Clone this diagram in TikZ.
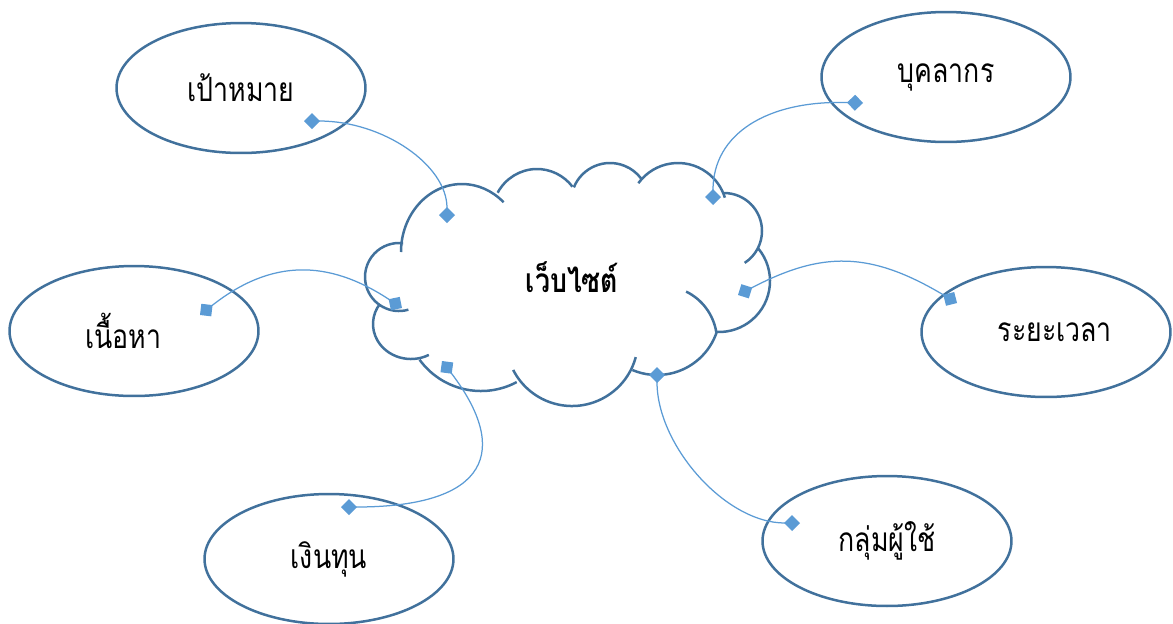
\documentclass[tikz,border=0pt]{standalone}
\usepackage{fontspec}
\newfontfamily\thaifont[Script=Thai, FakeStretch=0.8]{Loma}
\usetikzlibrary{shapes.geometric, arrows.meta, calc}
\definecolor{outlineblue}{HTML}{41719C}
\definecolor{linkblue}{HTML}{5B9BD5}
\tikzset{
  topic/.style={
    ellipse,
    draw = outlineblue,
    line width = 0.05cm,
    minimum width = 4.98cm,
    minimum height = 2.6cm,
    font = \thaifont\fontsize{19}{23}\selectfont
  },
  webtitle/.style={
    font = \thaifont\bfseries\fontsize{19}{23}\selectfont
  },
  cloudline/.style={
    draw = outlineblue,
    line width = 0.05cm
  },
  linkline/.style={
    draw = linkblue,
    line width = 0.025cm,
    arrows = {Diamond[length=0.32cm, width=0.32cm]-Diamond[length=0.32cm, width=0.32cm]}
  }
}

\begin{document}
\begin{tikzpicture}[x=0.02cm, y=-0.02cm]
    \useasboundingbox (0,0) rectangle (1173,623);
    \coordinate (goalpin) at (304,121);
    \coordinate (webgoal) at (447,223);
    \coordinate (staffpin) at (863,103);
    \coordinate (webstaff) at (713,205);
    \coordinate (contentpin) at (200,315);
    \coordinate (webcontent) at (402,308);
    \coordinate (webtime) at (738,295);
    \coordinate (timepin) at (957,303);
    \coordinate (webfunds) at (442,361);
    \coordinate (fundspin) at (341,507);
    \coordinate (webusers) at (657,367);
    \coordinate (userspin) at (800,523);

    % cloud outline, lobe by lobe
    \draw[cloudline] (462,252) ++(180:61 and 68) arc[start angle=180, end angle=313, x radius=61, y radius=68];
    \draw[cloudline] (537,215) ++(209:45 and 46) arc[start angle=209, end angle=322, x radius=45, y radius=46];
    \draw[cloudline] (610,202) ++(202:39 and 39) arc[start angle=202, end angle=323, radius=39];
    \draw[cloudline] (678,212) ++(216:49 and 49) arc[start angle=216, end angle=343, radius=49];
    \draw[cloudline] (724,231) ++(270:38 and 38) arc[start angle=270, end angle=417, radius=38];
    \draw[cloudline] (719,281) ++(320:51 and 51) arc[start angle=320, end angle=452, radius=51];
    \draw[cloudline] (662,341) ++(296:55 and 55) arc[start angle=296, end angle=351, radius=55];
    \draw[cloudline] (657,312) ++(18:63 and 63) arc[start angle=18, end angle=113, radius=63];
    \draw[cloudline] (572,340) ++(15:66 and 66) arc[start angle=15, end angle=153, radius=66];
    \draw[cloudline] (481,315) ++(62:76 and 76) arc[start angle=62, end angle=144, radius=76];
    \draw[cloudline] (411,324) ++(62:38 and 35) arc[start angle=62, end angle=215, x radius=38, y radius=35];
    \draw[cloudline] (399,277) ++(74:34 and 34) arc[start angle=74, end angle=277, radius=34];
    \node[webtitle] (web) at (572,277) {เว็บไซต์};

    \node[topic] (goal) at (241,88) {เป้าหมาย};
    \node[topic] (staff) at (946,77) {บุคลากร};
    \node[topic] (content) at (134,331) {เนื้อหา\hspace*{12pt}};
    \node[topic] (time) at (1046,332) {\hspace*{10pt}ระยะเวลา};
    \node[topic] (funds) at (329,559) {เงินทุน};
    \node[topic] (users) at (887,541) {กลุ่มผู้ใช้};

    \draw[linkline] (goalpin) .. controls +(79,0) and +(0,-58) .. (webgoal);
    \draw[linkline] (staffpin) .. controls +(-96,-3) and +(0,-71) .. (webstaff);
    \draw[linkline] (contentpin) .. controls +(71,-56) and +(-74,-49) .. (webcontent);
    \draw[linkline] (webtime) .. controls +(84,-44) and +(-87,-52) .. (timepin);
    \draw[linkline] (webfunds) .. controls +(68,89) and +(149,0) .. (fundspin);
    \draw[linkline] (webusers) .. controls +(0,78) and +(-75,0) .. (userspin);
\end{tikzpicture}
\end{document}
